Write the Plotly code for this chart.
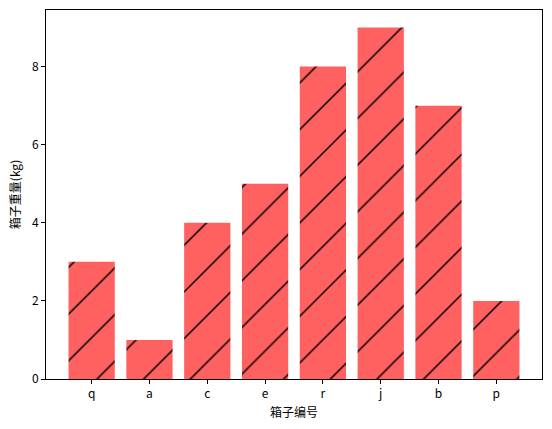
import plotly.graph_objects as go

categories = ["q", "a", "c", "e", "r", "j", "b", "p"]
weights = [3, 1, 4, 5, 8, 9, 7, 2]
y_ticks = [0, 2, 4, 6, 8]

font_family = "Noto Sans CJK SC, DejaVu Sans, sans-serif"

fig = go.Figure(
    go.Bar(
        x=categories,
        y=weights,
        width=0.8,
        marker=dict(
            color="rgb(255,96,96)",
            line=dict(width=0),
            pattern=dict(shape="/", fgcolor="black", fgopacity=1,
                         size=33, solidity=0.045, fillmode="overlay"),
        ),
    )
)

fig.update_layout(
    width=552,
    height=429,
    margin=dict(l=46, r=10, t=10, b=50),
    plot_bgcolor="white",
    paper_bgcolor="white",
    font=dict(family=font_family, size=12, color="black"),
    showlegend=False,
    bargap=0.2,
)

fig.update_xaxes(
    range=[-0.79, 7.79],
    showline=True, linecolor="black", linewidth=1, mirror=True,
    ticks="outside", ticklen=4, tickcolor="black",
    showgrid=False, zeroline=False,
    title=dict(text="箱子编号", font=dict(size=12), standoff=8),
)

fig.update_yaxes(
    range=[0, 9.45],
    tickvals=y_ticks,
    showline=True, linecolor="black", linewidth=1, mirror=True,
    ticks="outside", ticklen=4, tickcolor="black",
    showgrid=False, zeroline=False,
    title=dict(text="箱子重量(kg)", font=dict(size=12), standoff=8),
)

fig.write_html(
    "out.html",
    config={"displayModeBar": False},
    post_script="document.body.style.margin='0';document.body.style.overflow='hidden';",
)
